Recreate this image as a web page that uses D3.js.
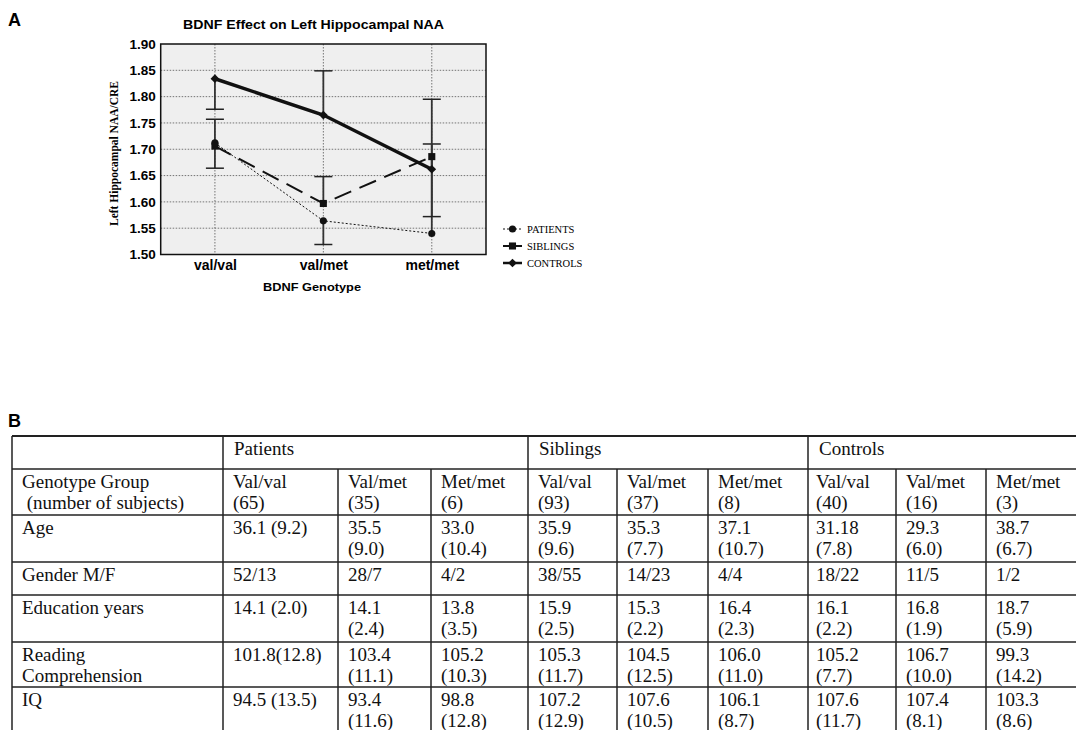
<!DOCTYPE html>
<html>
<head>
<meta charset="utf-8">
<script src="https://cdn.jsdelivr.net/npm/d3@7"></script>
<style>
  body { margin: 0; background: #fff; }
  svg { display: block; }
  .sans { font-family: "Liberation Sans", Arial, sans-serif; }
  .serif { font-family: "Liberation Serif", "Times New Roman", serif; }
</style>
</head>
<body>
<svg width="1076" height="730"></svg>
<script>
// ---- panel A data ----
var genotypes = ["val/val", "val/met", "met/met"];
var yTicks = [1.50, 1.55, 1.60, 1.65, 1.70, 1.75, 1.80, 1.85, 1.90];
var seriesNames = ["PATIENTS", "SIBLINGS", "CONTROLS"];
var patients = [1.712, 1.564, 1.540];
var siblings = [1.706, 1.597, 1.686];
var controls = [1.834, 1.765, 1.662];
// one-sided error bars: value where the cap sits
var patientsErr = [1.664, 1.519, 1.710];
var siblingsErr = [1.757, 1.648, 1.572];
var controlsErr = [1.776, 1.849, 1.795];

// ---- panel B data ----
var groups = ["Patients", "Siblings", "Controls"];
var rowLabels = [["Genotype Group", " (number of subjects)"], ["Age"], ["Gender M/F"],
  ["Education years"], ["Reading", "Comprehension"], ["IQ"]];
var genotypeRow = [["Val/val", "(65)"], ["Val/met", "(35)"], ["Met/met", "(6)"],
  ["Val/val", "(93)"], ["Val/met", "(37)"], ["Met/met", "(8)"],
  ["Val/val", "(40)"], ["Val/met", "(16)"], ["Met/met", "(3)"]];
var ageRow = [["36.1 (9.2)"], ["35.5", "(9.0)"], ["33.0", "(10.4)"],
  ["35.9", "(9.6)"], ["35.3", "(7.7)"], ["37.1", "(10.7)"],
  ["31.18", "(7.8)"], ["29.3", "(6.0)"], ["38.7", "(6.7)"]];
var genderRow = [["52/13"], ["28/7"], ["4/2"], ["38/55"], ["14/23"], ["4/4"],
  ["18/22"], ["11/5"], ["1/2"]];
var educationRow = [["14.1 (2.0)"], ["14.1", "(2.4)"], ["13.8", "(3.5)"],
  ["15.9", "(2.5)"], ["15.3", "(2.2)"], ["16.4", "(2.3)"],
  ["16.1", "(2.2)"], ["16.8", "(1.9)"], ["18.7", "(5.9)"]];
var readingRow = [["101.8(12.8)"], ["103.4", "(11.1)"], ["105.2", "(10.3)"],
  ["105.3", "(11.7)"], ["104.5", "(12.5)"], ["106.0", "(11.0)"],
  ["105.2", "(7.7)"], ["106.7", "(10.0)"], ["99.3", "(14.2)"]];
var iqRow = [["94.5 (13.5)"], ["93.4", "(11.6)"], ["98.8", "(12.8)"],
  ["107.2", "(12.9)"], ["107.6", "(10.5)"], ["106.1", "(8.7)"],
  ["107.6", "(11.7)"], ["107.4", "(8.1)"], ["103.3", "(8.6)"]];

var svg = d3.select("svg");

// ================= Panel A =================
var plot = {left: 160.7, top: 44, right: 486, bottom: 254.5};

var x = d3.scalePoint().domain(genotypes).range([plot.left, plot.right]).padding(0.5),
    y = d3.scaleLinear().domain([1.50, 1.90]).range([plot.bottom, plot.top]);

svg.append("text").attr("class", "sans")
    .attr("x", 8).attr("y", 26)
    .attr("font-size", 18).attr("font-weight", "bold").text("A");

svg.append("text").attr("class", "sans")
    .attr("x", 313.5).attr("y", 28.5)
    .attr("text-anchor", "middle")
    .attr("font-size", 12.5).attr("font-weight", "bold")
    .attr("textLength", 261).attr("lengthAdjust", "spacingAndGlyphs")
    .text("BDNF Effect on Left Hippocampal NAA");

svg.append("rect")
    .attr("x", plot.left).attr("y", plot.top)
    .attr("width", plot.right - plot.left).attr("height", plot.bottom - plot.top)
    .attr("fill", "#efefef");

// grid
svg.append("g").selectAll("line")
    .data(yTicks.slice(1, -1))
    .enter().append("line")
      .attr("x1", plot.left).attr("x2", plot.right)
      .attr("y1", function(d) { return y(d); }).attr("y2", function(d) { return y(d); })
      .attr("stroke", "#555").attr("stroke-width", 0.8).attr("stroke-dasharray", "1.5,1.5");

svg.append("g").selectAll("line")
    .data(genotypes)
    .enter().append("line")
      .attr("x1", function(d) { return x(d); }).attr("x2", function(d) { return x(d); })
      .attr("y1", plot.top).attr("y2", plot.bottom)
      .attr("stroke", "#555").attr("stroke-width", 0.8).attr("stroke-dasharray", "1.5,1.5");

// axes
var gy = svg.append("g").attr("class", "sans")
    .attr("transform", "translate(" + plot.left + ",0)")
    .call(d3.axisLeft(y).tickValues(yTicks).tickFormat(d3.format(".2f")).tickSize(0).tickPadding(5));
gy.select(".domain").remove();
gy.selectAll("text").attr("font-size", 13.5).attr("font-weight", "bold")
    .attr("font-family", "Liberation Sans, Arial, sans-serif").attr("fill", "#000");

var gx = svg.append("g").attr("class", "sans")
    .attr("transform", "translate(0," + plot.bottom + ")")
    .call(d3.axisBottom(x).tickSize(0).tickPadding(6));
gx.select(".domain").remove();
gx.selectAll("text").attr("font-size", 14).attr("font-weight", "bold")
    .attr("font-family", "Liberation Sans, Arial, sans-serif").attr("fill", "#000");

svg.append("text").attr("class", "sans")
    .attr("x", 312).attr("y", 291)
    .attr("text-anchor", "middle")
    .attr("font-size", 11.5).attr("font-weight", "bold")
    .attr("textLength", 98).attr("lengthAdjust", "spacingAndGlyphs")
    .text("BDNF Genotype");

svg.append("text").attr("class", "serif")
    .attr("transform", "translate(118,153.5) rotate(-90)")
    .attr("text-anchor", "middle")
    .attr("font-size", 11.5).attr("font-weight", "bold")
    .text("Left Hippocampal NAA/CRE");

// error bars
var series = [
  {name: seriesNames[0], values: patients, err: patientsErr, width: 1, dash: "2,2", sym: "circle"},
  {name: seriesNames[1], values: siblings, err: siblingsErr, width: 2, dash: "18,9", sym: "square"},
  {name: seriesNames[2], values: controls, err: controlsErr, width: 3.5, dash: null, sym: "diamond"}
];

var eb = svg.append("g");
series.forEach(function(s) {
  genotypes.forEach(function(g, i) {
    eb.append("line")
        .attr("x1", x(g)).attr("x2", x(g))
        .attr("y1", y(s.values[i])).attr("y2", y(s.err[i]))
        .attr("stroke", "#333").attr("stroke-width", 1.8);
    eb.append("line")
        .attr("x1", x(g) - 9).attr("x2", x(g) + 9)
        .attr("y1", y(s.err[i])).attr("y2", y(s.err[i]))
        .attr("stroke", "#222").attr("stroke-width", 1.5);
  });
});

var line = d3.line()
    .x(function(d, i) { return x(genotypes[i]); })
    .y(function(d) { return y(d); });

function symbolPath(type) {
  if (type === "circle") return d3.symbol().type(d3.symbolCircle).size(40)();
  if (type === "square") return d3.symbol().type(d3.symbolSquare).size(50)();
  return d3.symbol().type(d3.symbolSquare).size(38)();
}

series.forEach(function(s) {
  svg.append("path")
      .datum(s.values)
      .attr("d", line)
      .attr("fill", "none")
      .attr("stroke", "#111")
      .attr("stroke-width", s.width)
      .attr("stroke-dasharray", s.dash);

  svg.append("g").selectAll("path")
      .data(s.values)
      .enter().append("path")
        .attr("d", symbolPath(s.sym))
        .attr("transform", function(d, i) {
          return "translate(" + x(genotypes[i]) + "," + y(d) + ")" + (s.sym === "diamond" ? " rotate(45)" : "");
        })
        .attr("fill", "#111");
});

// border
svg.append("rect")
    .attr("x", plot.left).attr("y", plot.top)
    .attr("width", plot.right - plot.left).attr("height", plot.bottom - plot.top)
    .attr("fill", "none").attr("stroke", "#111").attr("stroke-width", 1.5);

// legend
var legend = svg.append("g").attr("transform", "translate(503,229)");
series.forEach(function(s, i) {
  var lg = legend.append("g").attr("transform", "translate(0," + i * 17 + ")");
  lg.append("line").attr("x1", 0).attr("x2", 19)
      .attr("stroke", "#111").attr("stroke-width", Math.min(s.width, 2.5))
      .attr("stroke-dasharray", s.sym === "circle" ? "2,2" : null);
  lg.append("path").attr("d", symbolPath(s.sym))
      .attr("transform", "translate(9.5,0)" + (s.sym === "diamond" ? " rotate(45)" : ""))
      .attr("fill", "#111");
  lg.append("text").attr("class", "serif")
      .attr("x", 24).attr("y", 3.8)
      .attr("font-size", 10.5).text(s.name);
});

// ================= Panel B =================
svg.append("text").attr("class", "sans")
    .attr("x", 8).attr("y", 427)
    .attr("font-size", 18).attr("font-weight", "bold").text("B");

var colEdges = [12, 223, 338, 431, 528, 617, 708, 808, 896, 986, 1082];
var colPad = [10, 10, 10, 10, 10, 10, 10, 8, 10, 10];
var rowEdges = [436, 469, 515, 562, 595, 642, 687, 734];
var bodyRows = [genotypeRow, ageRow, genderRow, educationRow, readingRow, iqRow];

var tbl = svg.append("g").attr("class", "serif");

// horizontal rules
tbl.selectAll(".hrule")
    .data(rowEdges)
    .enter().append("line")
      .attr("x1", colEdges[0]).attr("x2", colEdges[colEdges.length - 1])
      .attr("y1", function(d) { return d; }).attr("y2", function(d) { return d; })
      .attr("stroke", "#222").attr("stroke-width", function(d, i) { return i === 0 ? 2 : 1.5; });

// vertical rules: header row only at group edges
var groupEdges = [colEdges[0], colEdges[1], colEdges[4], colEdges[7], colEdges[10]];
tbl.selectAll(".vhead")
    .data(groupEdges)
    .enter().append("line")
      .attr("x1", function(d) { return d; }).attr("x2", function(d) { return d; })
      .attr("y1", rowEdges[0]).attr("y2", rowEdges[1])
      .attr("stroke", "#222").attr("stroke-width", 1.5);
tbl.selectAll(".vbody")
    .data(colEdges)
    .enter().append("line")
      .attr("x1", function(d) { return d; }).attr("x2", function(d) { return d; })
      .attr("y1", rowEdges[1]).attr("y2", rowEdges[rowEdges.length - 1])
      .attr("stroke", "#222").attr("stroke-width", 1.5);

function cellText(lines, x0, top) {
  var t = tbl.append("text")
      .attr("x", x0).attr("y", top + 18.5)
      .attr("font-size", 19).attr("fill", "#111")
      .style("white-space", "pre");
  lines.forEach(function(l, k) {
    t.append("tspan").attr("x", x0).attr("dy", k === 0 ? 0 : 21.7).text(l);
  });
}

groups.forEach(function(g, i) {
  cellText([g], groupEdges[i + 1] + 11, rowEdges[0]);
});

rowLabels.forEach(function(lbl, r) {
  cellText(lbl, colEdges[0] + 10, rowEdges[r + 1]);
  bodyRows[r].forEach(function(cell, c) {
    cellText(cell, colEdges[c + 1] + colPad[c + 1], rowEdges[r + 1]);
  });
});
</script>
</body>
</html>
